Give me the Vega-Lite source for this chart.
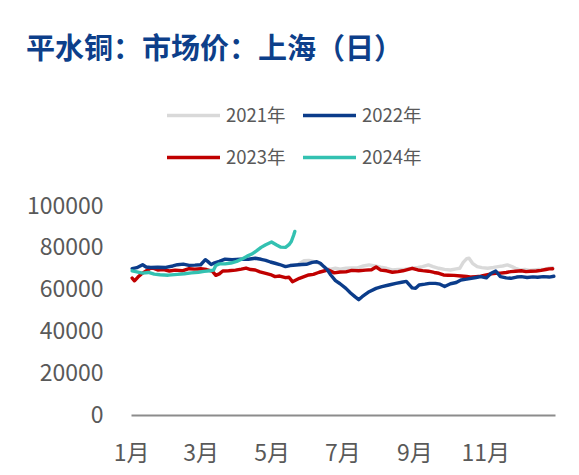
{
  "$schema": "https://vega.github.io/schema/vega-lite/v6.json",
  "width": 424,
  "height": 209,
  "autosize": {"type": "none"},
  "padding": {"left": 131, "top": 206, "right": 24, "bottom": 60},
  "background": "white",
  "title": {
    "text": "平水铜：市场价：上海（日）",
    "anchor": "start",
    "frame": "group",
    "dx": -105,
    "dy": -22,
    "offset": 0,
    "font": "Noto Sans CJK SC",
    "fontWeight": "bold",
    "fontSize": 29,
    "color": "#0D3F8A"
  },
  "data": {
    "values": [
      {"s": "2021年", "date": "2021-05-25", "v": 72500},
      {"s": "2021年", "date": "2021-05-29", "v": 73800},
      {"s": "2021年", "date": "2021-06-02", "v": 74000},
      {"s": "2021年", "date": "2021-06-06", "v": 73500},
      {"s": "2021年", "date": "2021-06-10", "v": 72800},
      {"s": "2021年", "date": "2021-06-14", "v": 71500},
      {"s": "2021年", "date": "2021-06-17", "v": 70000},
      {"s": "2021年", "date": "2021-06-21", "v": 69800},
      {"s": "2021年", "date": "2021-06-25", "v": 70200},
      {"s": "2021年", "date": "2021-06-29", "v": 69800},
      {"s": "2021年", "date": "2021-07-04", "v": 70200},
      {"s": "2021年", "date": "2021-07-09", "v": 70300},
      {"s": "2021年", "date": "2021-07-14", "v": 70400},
      {"s": "2021年", "date": "2021-07-19", "v": 71300},
      {"s": "2021年", "date": "2021-07-24", "v": 71800},
      {"s": "2021年", "date": "2021-07-29", "v": 71300},
      {"s": "2021年", "date": "2021-08-03", "v": 70700},
      {"s": "2021年", "date": "2021-08-08", "v": 70200},
      {"s": "2021年", "date": "2021-08-13", "v": 69400},
      {"s": "2021年", "date": "2021-08-18", "v": 69700},
      {"s": "2021年", "date": "2021-08-24", "v": 69800},
      {"s": "2021年", "date": "2021-08-30", "v": 70200},
      {"s": "2021年", "date": "2021-09-04", "v": 70600},
      {"s": "2021年", "date": "2021-09-08", "v": 71000},
      {"s": "2021年", "date": "2021-09-13", "v": 71800},
      {"s": "2021年", "date": "2021-09-17", "v": 71000},
      {"s": "2021年", "date": "2021-09-22", "v": 70200},
      {"s": "2021年", "date": "2021-09-27", "v": 69700},
      {"s": "2021年", "date": "2021-10-02", "v": 69400},
      {"s": "2021年", "date": "2021-10-07", "v": 69900},
      {"s": "2021年", "date": "2021-10-10", "v": 70200},
      {"s": "2021年", "date": "2021-10-13", "v": 73000},
      {"s": "2021年", "date": "2021-10-16", "v": 74800},
      {"s": "2021年", "date": "2021-10-18", "v": 75000},
      {"s": "2021年", "date": "2021-10-21", "v": 72600},
      {"s": "2021年", "date": "2021-10-25", "v": 71000},
      {"s": "2021年", "date": "2021-10-29", "v": 70500},
      {"s": "2021年", "date": "2021-11-03", "v": 70200},
      {"s": "2021年", "date": "2021-11-08", "v": 70600},
      {"s": "2021年", "date": "2021-11-12", "v": 71000},
      {"s": "2021年", "date": "2021-11-16", "v": 71300},
      {"s": "2021年", "date": "2021-11-20", "v": 71800},
      {"s": "2021年", "date": "2021-11-24", "v": 71000},
      {"s": "2021年", "date": "2021-11-27", "v": 70200},
      {"s": "2021年", "date": "2021-12-01", "v": 69400},
      {"s": "2021年", "date": "2021-12-05", "v": 69600},
      {"s": "2021年", "date": "2021-12-09", "v": 69200},
      {"s": "2021年", "date": "2021-12-13", "v": 69400},
      {"s": "2021年", "date": "2021-12-17", "v": 69600},
      {"s": "2021年", "date": "2021-12-22", "v": 69800},
      {"s": "2021年", "date": "2021-12-26", "v": 70300},
      {"s": "2021年", "date": "2021-12-29", "v": 70500},

      {"s": "2023年", "date": "2023-01-02", "v": 65500},
      {"s": "2023年", "date": "2023-01-04", "v": 64200},
      {"s": "2023年", "date": "2023-01-07", "v": 66000},
      {"s": "2023年", "date": "2023-01-10", "v": 67500},
      {"s": "2023年", "date": "2023-01-13", "v": 68600},
      {"s": "2023年", "date": "2023-01-17", "v": 70000},
      {"s": "2023年", "date": "2023-01-20", "v": 70300},
      {"s": "2023年", "date": "2023-01-24", "v": 69400},
      {"s": "2023年", "date": "2023-01-29", "v": 69600},
      {"s": "2023年", "date": "2023-02-03", "v": 68900},
      {"s": "2023年", "date": "2023-02-08", "v": 69300},
      {"s": "2023年", "date": "2023-02-14", "v": 69000},
      {"s": "2023年", "date": "2023-02-20", "v": 70000},
      {"s": "2023年", "date": "2023-02-25", "v": 69800},
      {"s": "2023年", "date": "2023-03-01", "v": 70000},
      {"s": "2023年", "date": "2023-03-06", "v": 69600},
      {"s": "2023年", "date": "2023-03-11", "v": 68800},
      {"s": "2023年", "date": "2023-03-14", "v": 66800},
      {"s": "2023年", "date": "2023-03-17", "v": 67500},
      {"s": "2023年", "date": "2023-03-20", "v": 68900},
      {"s": "2023年", "date": "2023-03-25", "v": 69000},
      {"s": "2023年", "date": "2023-03-31", "v": 69300},
      {"s": "2023年", "date": "2023-04-05", "v": 69800},
      {"s": "2023年", "date": "2023-04-09", "v": 70300},
      {"s": "2023年", "date": "2023-04-13", "v": 69600},
      {"s": "2023年", "date": "2023-04-17", "v": 69400},
      {"s": "2023年", "date": "2023-04-21", "v": 68500},
      {"s": "2023年", "date": "2023-04-26", "v": 67800},
      {"s": "2023年", "date": "2023-04-30", "v": 67200},
      {"s": "2023年", "date": "2023-05-04", "v": 66200},
      {"s": "2023年", "date": "2023-05-08", "v": 66500},
      {"s": "2023年", "date": "2023-05-13", "v": 65700},
      {"s": "2023年", "date": "2023-05-16", "v": 65900},
      {"s": "2023年", "date": "2023-05-19", "v": 63800},
      {"s": "2023年", "date": "2023-05-22", "v": 64600},
      {"s": "2023年", "date": "2023-05-25", "v": 65400},
      {"s": "2023年", "date": "2023-05-29", "v": 66200},
      {"s": "2023年", "date": "2023-06-02", "v": 67000},
      {"s": "2023年", "date": "2023-06-06", "v": 67300},
      {"s": "2023年", "date": "2023-06-11", "v": 68300},
      {"s": "2023年", "date": "2023-06-15", "v": 68900},
      {"s": "2023年", "date": "2023-06-19", "v": 69400},
      {"s": "2023年", "date": "2023-06-24", "v": 68000},
      {"s": "2023年", "date": "2023-06-29", "v": 68400},
      {"s": "2023年", "date": "2023-07-04", "v": 68500},
      {"s": "2023年", "date": "2023-07-09", "v": 69200},
      {"s": "2023年", "date": "2023-07-15", "v": 69000},
      {"s": "2023年", "date": "2023-07-21", "v": 69300},
      {"s": "2023年", "date": "2023-07-26", "v": 69500},
      {"s": "2023年", "date": "2023-07-30", "v": 70800},
      {"s": "2023年", "date": "2023-08-03", "v": 69300},
      {"s": "2023年", "date": "2023-08-08", "v": 69000},
      {"s": "2023年", "date": "2023-08-13", "v": 68300},
      {"s": "2023年", "date": "2023-08-18", "v": 68600},
      {"s": "2023年", "date": "2023-08-22", "v": 69000},
      {"s": "2023年", "date": "2023-08-26", "v": 69600},
      {"s": "2023年", "date": "2023-08-30", "v": 70200},
      {"s": "2023年", "date": "2023-09-04", "v": 69400},
      {"s": "2023年", "date": "2023-09-08", "v": 69100},
      {"s": "2023年", "date": "2023-09-13", "v": 68800},
      {"s": "2023年", "date": "2023-09-18", "v": 68200},
      {"s": "2023年", "date": "2023-09-22", "v": 67800},
      {"s": "2023年", "date": "2023-09-26", "v": 67000},
      {"s": "2023年", "date": "2023-09-30", "v": 66900},
      {"s": "2023年", "date": "2023-10-05", "v": 66800},
      {"s": "2023年", "date": "2023-10-11", "v": 66500},
      {"s": "2023年", "date": "2023-10-16", "v": 66300},
      {"s": "2023年", "date": "2023-10-20", "v": 66000},
      {"s": "2023年", "date": "2023-10-24", "v": 66200},
      {"s": "2023年", "date": "2023-10-28", "v": 66400},
      {"s": "2023年", "date": "2023-11-02", "v": 67000},
      {"s": "2023年", "date": "2023-11-06", "v": 67500},
      {"s": "2023年", "date": "2023-11-10", "v": 67800},
      {"s": "2023年", "date": "2023-11-14", "v": 67900},
      {"s": "2023年", "date": "2023-11-19", "v": 68200},
      {"s": "2023年", "date": "2023-11-23", "v": 68600},
      {"s": "2023年", "date": "2023-11-27", "v": 68800},
      {"s": "2023年", "date": "2023-12-02", "v": 69000},
      {"s": "2023年", "date": "2023-12-06", "v": 68600},
      {"s": "2023年", "date": "2023-12-10", "v": 68800},
      {"s": "2023年", "date": "2023-12-15", "v": 68900},
      {"s": "2023年", "date": "2023-12-19", "v": 69200},
      {"s": "2023年", "date": "2023-12-23", "v": 69600},
      {"s": "2023年", "date": "2023-12-26", "v": 69900},
      {"s": "2023年", "date": "2023-12-29", "v": 70000},

      {"s": "2022年", "date": "2022-01-02", "v": 70000},
      {"s": "2022年", "date": "2022-01-06", "v": 70500},
      {"s": "2022年", "date": "2022-01-11", "v": 71900},
      {"s": "2022年", "date": "2022-01-14", "v": 70800},
      {"s": "2022年", "date": "2022-01-18", "v": 70600},
      {"s": "2022年", "date": "2022-01-24", "v": 70700},
      {"s": "2022年", "date": "2022-01-31", "v": 70600},
      {"s": "2022年", "date": "2022-02-06", "v": 71300},
      {"s": "2022年", "date": "2022-02-10", "v": 71900},
      {"s": "2022年", "date": "2022-02-15", "v": 72200},
      {"s": "2022年", "date": "2022-02-20", "v": 71600},
      {"s": "2022年", "date": "2022-02-25", "v": 71700},
      {"s": "2022年", "date": "2022-03-01", "v": 71900},
      {"s": "2022年", "date": "2022-03-05", "v": 74300},
      {"s": "2022年", "date": "2022-03-07", "v": 73500},
      {"s": "2022年", "date": "2022-03-10", "v": 72000},
      {"s": "2022年", "date": "2022-03-13", "v": 72800},
      {"s": "2022年", "date": "2022-03-17", "v": 73500},
      {"s": "2022年", "date": "2022-03-22", "v": 74600},
      {"s": "2022年", "date": "2022-03-28", "v": 74300},
      {"s": "2022年", "date": "2022-04-04", "v": 74500},
      {"s": "2022年", "date": "2022-04-11", "v": 74500},
      {"s": "2022年", "date": "2022-04-17", "v": 75000},
      {"s": "2022年", "date": "2022-04-22", "v": 74500},
      {"s": "2022年", "date": "2022-04-26", "v": 74000},
      {"s": "2022年", "date": "2022-04-30", "v": 73200},
      {"s": "2022年", "date": "2022-05-04", "v": 72600},
      {"s": "2022年", "date": "2022-05-08", "v": 72000},
      {"s": "2022年", "date": "2022-05-13", "v": 71000},
      {"s": "2022年", "date": "2022-05-17", "v": 71500},
      {"s": "2022年", "date": "2022-05-22", "v": 71800},
      {"s": "2022年", "date": "2022-05-27", "v": 72000},
      {"s": "2022年", "date": "2022-05-31", "v": 72100},
      {"s": "2022年", "date": "2022-06-05", "v": 73000},
      {"s": "2022年", "date": "2022-06-09", "v": 73300},
      {"s": "2022年", "date": "2022-06-12", "v": 72600},
      {"s": "2022年", "date": "2022-06-15", "v": 71000},
      {"s": "2022年", "date": "2022-06-18", "v": 69500},
      {"s": "2022年", "date": "2022-06-21", "v": 67000},
      {"s": "2022年", "date": "2022-06-25", "v": 64300},
      {"s": "2022年", "date": "2022-06-29", "v": 62800},
      {"s": "2022年", "date": "2022-07-04", "v": 60600},
      {"s": "2022年", "date": "2022-07-08", "v": 58400},
      {"s": "2022年", "date": "2022-07-12", "v": 56500},
      {"s": "2022年", "date": "2022-07-15", "v": 55200},
      {"s": "2022年", "date": "2022-07-18", "v": 56600},
      {"s": "2022年", "date": "2022-07-24", "v": 59000},
      {"s": "2022年", "date": "2022-07-30", "v": 60600},
      {"s": "2022年", "date": "2022-08-04", "v": 61400},
      {"s": "2022年", "date": "2022-08-10", "v": 62200},
      {"s": "2022年", "date": "2022-08-16", "v": 63000},
      {"s": "2022年", "date": "2022-08-21", "v": 63500},
      {"s": "2022年", "date": "2022-08-25", "v": 63900},
      {"s": "2022年", "date": "2022-08-30", "v": 60800},
      {"s": "2022年", "date": "2022-09-02", "v": 60600},
      {"s": "2022年", "date": "2022-09-05", "v": 62200},
      {"s": "2022年", "date": "2022-09-10", "v": 62600},
      {"s": "2022年", "date": "2022-09-14", "v": 63000},
      {"s": "2022年", "date": "2022-09-19", "v": 63000},
      {"s": "2022年", "date": "2022-09-23", "v": 62600},
      {"s": "2022年", "date": "2022-09-27", "v": 61500},
      {"s": "2022年", "date": "2022-10-02", "v": 62800},
      {"s": "2022年", "date": "2022-10-07", "v": 63400},
      {"s": "2022年", "date": "2022-10-11", "v": 64600},
      {"s": "2022年", "date": "2022-10-16", "v": 65000},
      {"s": "2022年", "date": "2022-10-20", "v": 65400},
      {"s": "2022年", "date": "2022-10-24", "v": 65800},
      {"s": "2022年", "date": "2022-10-28", "v": 66200},
      {"s": "2022年", "date": "2022-11-02", "v": 65600},
      {"s": "2022年", "date": "2022-11-06", "v": 67800},
      {"s": "2022年", "date": "2022-11-10", "v": 68900},
      {"s": "2022年", "date": "2022-11-14", "v": 66200},
      {"s": "2022年", "date": "2022-11-19", "v": 65600},
      {"s": "2022年", "date": "2022-11-23", "v": 65400},
      {"s": "2022年", "date": "2022-11-28", "v": 66000},
      {"s": "2022年", "date": "2022-12-02", "v": 66200},
      {"s": "2022年", "date": "2022-12-07", "v": 65800},
      {"s": "2022年", "date": "2022-12-12", "v": 66100},
      {"s": "2022年", "date": "2022-12-16", "v": 65900},
      {"s": "2022年", "date": "2022-12-21", "v": 66200},
      {"s": "2022年", "date": "2022-12-26", "v": 66000},
      {"s": "2022年", "date": "2022-12-30", "v": 66400},

      {"s": "2024年", "date": "2024-01-02", "v": 69000},
      {"s": "2024年", "date": "2024-01-06", "v": 68500},
      {"s": "2024年", "date": "2024-01-11", "v": 67900},
      {"s": "2024年", "date": "2024-01-16", "v": 68200},
      {"s": "2024年", "date": "2024-01-21", "v": 67400},
      {"s": "2024年", "date": "2024-01-26", "v": 67100},
      {"s": "2024年", "date": "2024-02-02", "v": 66900},
      {"s": "2024年", "date": "2024-02-10", "v": 67300},
      {"s": "2024年", "date": "2024-02-16", "v": 67600},
      {"s": "2024年", "date": "2024-02-22", "v": 68000},
      {"s": "2024年", "date": "2024-02-28", "v": 68300},
      {"s": "2024年", "date": "2024-03-04", "v": 68700},
      {"s": "2024年", "date": "2024-03-09", "v": 69000},
      {"s": "2024年", "date": "2024-03-12", "v": 69300},
      {"s": "2024年", "date": "2024-03-14", "v": 71500},
      {"s": "2024年", "date": "2024-03-17", "v": 72300},
      {"s": "2024年", "date": "2024-03-22", "v": 72300},
      {"s": "2024年", "date": "2024-03-27", "v": 72700},
      {"s": "2024年", "date": "2024-04-01", "v": 73500},
      {"s": "2024年", "date": "2024-04-06", "v": 74800},
      {"s": "2024年", "date": "2024-04-10", "v": 76000},
      {"s": "2024年", "date": "2024-04-14", "v": 77000},
      {"s": "2024年", "date": "2024-04-18", "v": 78500},
      {"s": "2024年", "date": "2024-04-22", "v": 80200},
      {"s": "2024年", "date": "2024-04-26", "v": 81500},
      {"s": "2024年", "date": "2024-05-01", "v": 82800},
      {"s": "2024年", "date": "2024-05-05", "v": 81500},
      {"s": "2024年", "date": "2024-05-09", "v": 80300},
      {"s": "2024年", "date": "2024-05-13", "v": 80200},
      {"s": "2024年", "date": "2024-05-16", "v": 81500},
      {"s": "2024年", "date": "2024-05-18", "v": 83000},
      {"s": "2024年", "date": "2024-05-20", "v": 86000},
      {"s": "2024年", "date": "2024-05-21", "v": 87800}
    ]
  },
  "mark": {"type": "line", "strokeJoin": "round", "strokeCap": "round"},
  "encoding": {
    "x": {
      "field": "date",
      "timeUnit": "monthdate",
      "type": "temporal",
      "scale": {"domain": [{"year": 2012, "month": 1, "date": 1}, {"year": 2012, "month": 12, "date": 31}]},
      "axis": {
        "title": null,
        "values": [
          {"year": 2012, "month": 1, "date": 1},
          {"year": 2012, "month": 3, "date": 1},
          {"year": 2012, "month": 5, "date": 1},
          {"year": 2012, "month": 7, "date": 1},
          {"year": 2012, "month": 9, "date": 1},
          {"year": 2012, "month": 11, "date": 1}
        ],
        "format": "%-m月",
        "grid": false,
        "ticks": false,
        "domainColor": "#8C8C8C",
        "domainWidth": 2,
        "labelPadding": 27,
        "labelAlign": "center",
        "labelFont": "Noto Sans CJK SC",
        "labelFontSize": 23,
        "labelColor": "#595959",
        "labelOverlap": false
      }
    },
    "y": {
      "field": "v",
      "type": "quantitative",
      "scale": {"domain": [0, 100000], "nice": false},
      "axis": {
        "title": null,
        "values": [0, 20000, 40000, 60000, 80000, 100000],
        "format": "d",
        "grid": false,
        "ticks": false,
        "domain": false,
        "labelPadding": 28,
        "labelFont": "Noto Sans CJK SC",
        "labelFontSize": 23,
        "labelColor": "#595959"
      }
    },
    "color": {
      "field": "s",
      "type": "nominal",
      "scale": {
        "domain": ["2021年", "2022年", "2023年", "2024年"],
        "range": ["#D9D9D9", "#0B3C8A", "#C00000", "#33C1B1"]
      },
      "legend": {
        "title": null,
        "orient": "none",
        "legendX": 34,
        "legendY": -119,
        "direction": "horizontal",
        "columns": 2,
        "symbolType": "stroke",
        "symbolSize": 2809,
        "symbolStrokeWidth": 4,
        "labelFont": "Noto Sans CJK SC",
        "labelFontSize": 18.5,
        "labelColor": "#595959",
        "labelOffset": 4,
        "columnPadding": 10,
        "rowPadding": 4
      }
    },
    "strokeWidth": {
      "field": "s",
      "type": "nominal",
      "scale": {"domain": ["2021年", "2022年", "2023年", "2024年"], "range": [3.4, 3.4, 3.4, 4.2]},
      "legend": null
    }
  },
  "config": {
    "view": {"stroke": null}
  }
}
